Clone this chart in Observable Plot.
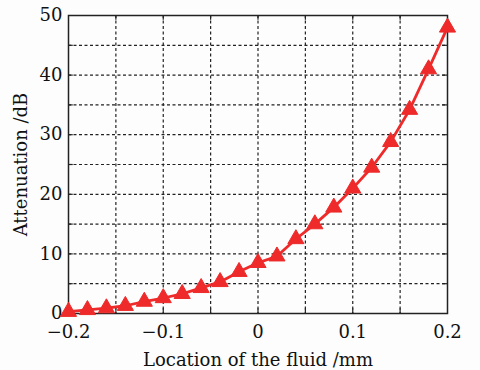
<!DOCTYPE html>
<html><head><meta charset="utf-8">
<script src="https://cdn.jsdelivr.net/npm/d3@7"></script>
<script src="https://cdn.jsdelivr.net/npm/@observablehq/plot@0.6"></script>
<style>
body{margin:0;background:#fdfdfd;}
</style></head>
<body><div id="chart"></div>
<script>
const location_mm = [-0.2,-0.18,-0.16,-0.14,-0.12,-0.1,-0.08,-0.06,-0.04,-0.02,0,0.02,0.04,0.06,0.08,0.1,0.12,0.14,0.16,0.18,0.2];
const attenuation = [0.3,0.6,0.9,1.3,2.0,2.6,3.3,4.3,5.3,7.0,8.5,9.6,12.5,15.0,17.8,21.0,24.5,28.8,34.2,41.0,48.0];
const xTicks = [-0.2,-0.1,0,0.1,0.2];
const yTicks = [0,10,20,30,40,50];
const xGrid = [-0.15,-0.1,-0.05,0,0.05,0.1,0.15];
const yGrid = [5,10,15,20,25,30,35,40,45];
const data = location_mm.map((x,i)=>({x, y: attenuation[i]}));
const fmt = d => d < 0 ? "\u2212" + Math.abs(d) : String(d);
const chart = Plot.plot({
  width: 480, height: 370,
  marginLeft: 68, marginRight: 33, marginTop: 15, marginBottom: 57,
  style: {background: "#fdfdfd", fontSize: "18px", fontFamily: "DejaVu Serif, Liberation Serif, serif", color: "#111"},
  x: {domain: [-0.2, 0.2]},
  y: {domain: [0, 50]},
  marks: [
    Plot.ruleX(xGrid, {stroke: "#222", strokeWidth: 1.2, strokeDasharray: "3,2.5"}),
    Plot.ruleY(yGrid, {stroke: "#222", strokeWidth: 1.2, strokeDasharray: "3,2.5"}),
    Plot.ruleX(xGrid, {y1: 0, y2: 0.8, stroke: "#222", strokeWidth: 1.2}),
    Plot.ruleX(xGrid, {y1: 49.2, y2: 50, stroke: "#222", strokeWidth: 1.2}),
    Plot.ruleY(yGrid, {x1: -0.2, x2: -0.195, stroke: "#222", strokeWidth: 1.2}),
    Plot.ruleY(yGrid, {x1: 0.195, x2: 0.2, stroke: "#222", strokeWidth: 1.2}),
    Plot.frame({stroke: "#222", strokeWidth: 1.5}),
    Plot.axisX({ticks: xTicks, tickFormat: fmt, tickSize: 0, tickPadding: 12, fontSize: 18, label: "Location of the fluid /mm", labelAnchor: "center", labelOffset: 52, labelArrow: "none"}),
    Plot.axisY({ticks: yTicks, tickSize: 0, tickPadding: 6, fontSize: 18, label: "Attenuation /dB", labelAnchor: "center", labelOffset: 54, labelArrow: "none"}),
    Plot.line(data, {x: "x", y: "y", stroke: "#ee2a2a", strokeWidth: 2.8}),
    Plot.dot(data, {x: "x", y: "y", symbol: "triangle", r: 6, fill: "#ee2a2a", stroke: "#ee2a2a", strokeWidth: 1})
  ]
});
document.getElementById("chart").appendChild(chart);
</script></body></html>
